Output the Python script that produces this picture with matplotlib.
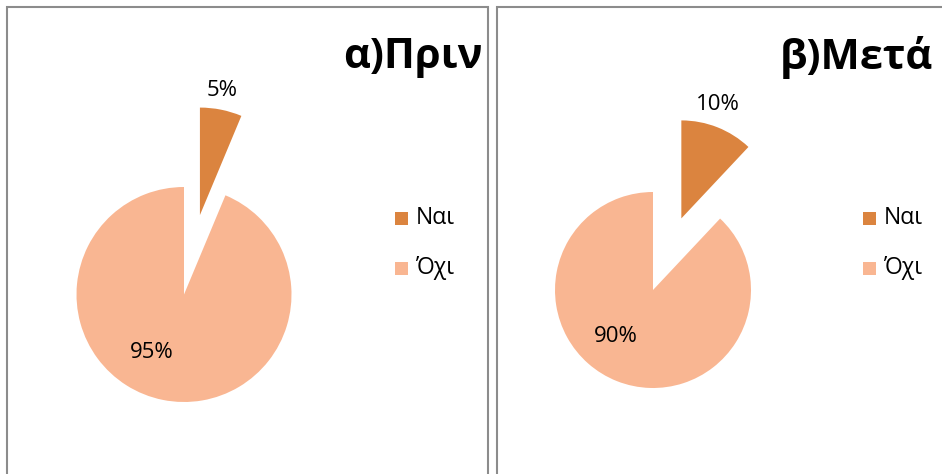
import matplotlib
matplotlib.use("Agg")
import matplotlib.pyplot as plt
from matplotlib.patches import Rectangle

plt.rcParams['font.family'] = ['Open Sans', 'DejaVu Sans']

categories = ["Ναι", "Όχι"]
# slice shares as drawn in the picture, and the percentages printed on it
before_shares = [6.3, 93.7]
after_shares = [12.0, 88.0]
before_labels = ["5%", "95%"]
after_labels = ["10%", "90%"]
titles = ["α)Πριν", "β)Μετά"]
colors = ["#DB843F", "#F9B692"]

W, H = 942, 474
fig = plt.figure(figsize=(W / 100, H / 100), dpi=100)
ax = fig.add_axes([0, 0, 1, 1])
ax.set_xlim(0, W)
ax.set_ylim(0, H)
ax.set_aspect('equal')
ax.axis('off')

# panel borders
for x0, x1 in [(7, 488), (497, 960)]:
    ax.add_patch(Rectangle((x0, -20), x1 - x0, H - 7 + 20, fill=False,
                           edgecolor="#8c8c8c", linewidth=1.5))

panels = [
    dict(vals=before_shares, labels=before_labels, center=(184, 179.5),
         r=107.5, expl=81, title_x=483,
         lbl_pos=[(222, 384), (152, 121)], leg_x=395),
    dict(vals=after_shares, labels=after_labels, center=(653, 184),
         r=98, expl=77, title_x=933,
         lbl_pos=[(718, 370), (616, 137)], leg_x=863),
]

for p, title in zip(panels, titles):
    wedges, texts = ax.pie(
        p['vals'], colors=colors, startangle=90, counterclock=False,
        explode=[p['expl'], 0], center=p['center'], radius=p['r'],
        wedgeprops=dict(linewidth=0))
    for lab, pos in zip(p['labels'], p['lbl_pos']):
        ax.text(pos[0], pos[1], lab, fontsize=16, ha='center', va='center',
                color='black')
    ax.set_xlim(0, W)
    ax.set_ylim(0, H)
    ax.text(p['title_x'], H - 57, title, fontsize=30, fontweight='bold',
            ha='right', va='center')
    for i, cat in enumerate(categories):
        y = H - 218 - 50 * i
        ax.add_patch(Rectangle((p['leg_x'], y - 6.5), 13, 13,
                               facecolor=colors[i], edgecolor='none'))
        ax.text(p['leg_x'] + 21, y, cat, fontsize=16.5, ha='left', va='center')

fig.savefig("out.png", dpi=100)
